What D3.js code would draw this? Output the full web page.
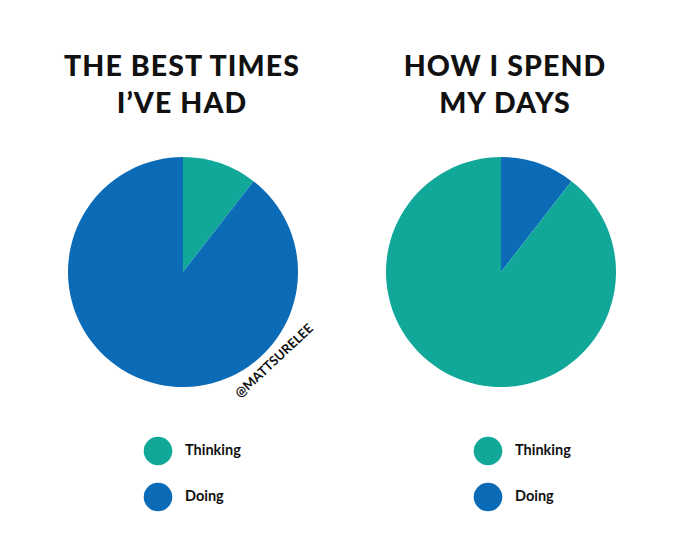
<!DOCTYPE html>
<html><head><meta charset="utf-8">
<script src="https://cdn.jsdelivr.net/npm/d3@7"></script>
<style>body{margin:0;background:#fff}</style>
</head><body>
<svg id="c" width="700" height="560"></svg>
<script>
const categories = ["Thinking", "Doing"];
const colors = ["#12a899", "#0b6bb7"];
const leftTitle = ["THE BEST TIMES", "I\u2019VE HAD"];
const rightTitle = ["HOW I SPEND", "MY DAYS"];
// slice values in drawing order (clockwise from 12 o'clock)
const leftOrder = ["Thinking", "Doing"];
const leftValues = [10.5, 89.5];
const rightOrder = ["Doing", "Thinking"];
const rightValues = [10.5, 89.5];
const watermark = "@MATTSURELEE";

const svg = d3.select("#c");
svg.append("rect").attr("width",700).attr("height",560).attr("fill","#fff");
const color = d3.scaleOrdinal().domain(categories).range(colors);
const pie = d3.pie().sort(null).value(d => d.v);
const arc = d3.arc().innerRadius(0).outerRadius(115);

function panel(cx, titleLines, order, values, titleCx, legendX) {
  const g = svg.append("g");
  g.selectAll("text.t").data(titleLines).join("text")
    .attr("x", titleCx).attr("y", (d,i) => 76 + i*37)
    .attr("text-anchor","middle")
    .attr("font-family","Lato").attr("font-weight",900).attr("font-size",28.5)
    .attr("letter-spacing",1.1)
    .attr("fill","#111").text(d => d);
  const data = order.map((k,i) => ({k, v: values[i]}));
  const pg = g.append("g").attr("transform", `translate(${cx},272)`);
  pg.selectAll("path").data(pie(data)).join("path")
    .attr("d", arc).attr("fill", d => color(d.data.k));
  const lg = g.append("g");
  categories.forEach((c,i) => {
    lg.append("circle").attr("cx", legendX).attr("cy", 451 + i*46).attr("r", 14.3).attr("fill", color(c));
    lg.append("text").attr("x", legendX + 27).attr("y", 455 + i*46)
      .attr("font-family","Lato").attr("font-weight",700).attr("font-size",14.5)
      .attr("fill","#111").text(c);
  });
}
panel(183, leftTitle, leftOrder, leftValues, 182, 158);
panel(501, rightTitle, rightOrder, rightValues, 505, 488);

svg.append("text").attr("transform","translate(277,364) rotate(-43)")
  .attr("text-anchor","middle").attr("font-family","Lato").attr("font-weight",700)
  .attr("font-size",13).attr("fill","#111").text(watermark);
</script>
</body></html>
